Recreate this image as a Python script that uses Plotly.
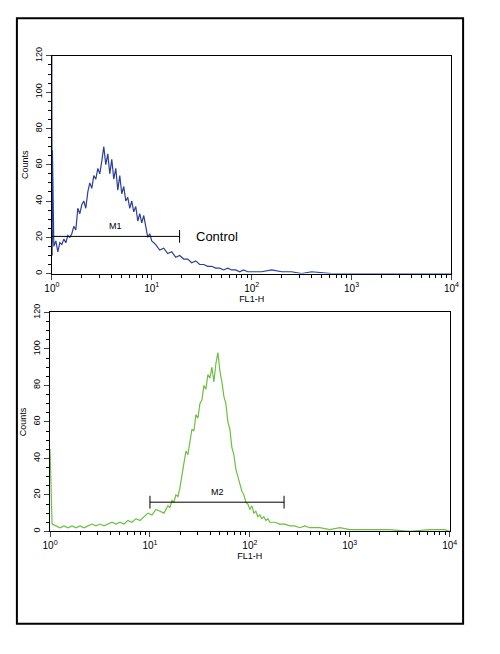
import math
import plotly.graph_objects as go

# top histogram (control), x as log10 of FL1-H
top_lx = [0, 0.003, 0.006, 0.02, 0.04, 0.06, 0.08, 0.10, 0.12, 0.14, 0.16, 0.18, 0.20, 0.22, 0.24, 0.26, 0.28,
          0.30, 0.32, 0.34, 0.36, 0.38, 0.40, 0.42, 0.44, 0.46, 0.48, 0.50, 0.52, 0.54, 0.56, 0.58,
          0.60, 0.62, 0.64, 0.66, 0.68, 0.70, 0.72, 0.74, 0.76, 0.78, 0.80, 0.82, 0.84, 0.86, 0.88,
          0.90, 0.92, 0.94, 0.96, 0.98, 1.00, 1.04, 1.08, 1.12, 1.16, 1.20, 1.24, 1.28, 1.32, 1.36,
          1.40, 1.44, 1.48, 1.52, 1.56, 1.60, 1.64, 1.68, 1.72, 1.76, 1.80, 1.84, 1.88, 1.92, 1.96,
          2.0, 2.1, 2.2, 2.3, 2.4, 2.5, 2.6, 2.8, 3.0, 3.3, 3.6, 4.0]
top_counts = [120, 10, 68, 15, 18, 12, 17, 16, 19, 17, 21, 20, 22, 26, 24, 36, 33,
              38, 40, 36, 45, 50, 47, 54, 52, 58, 55, 62, 70, 60, 66, 55,
              63, 52, 58, 46, 54, 44, 48, 40, 42, 36, 40, 34, 37, 29, 33,
              28, 32, 26, 20, 22, 18, 16, 13, 14, 11, 12, 9, 10, 8, 8,
              6, 7, 5, 5, 4, 4, 3, 3, 2, 3, 2, 2, 1, 2, 1,
              1, 1, 2, 1, 1, 0, 1, 0, 0, 0, 0, 0]

# bottom histogram (sample)
bot_lx = [0, 0.02, 0.06, 0.10, 0.14, 0.18, 0.22, 0.26, 0.30, 0.34, 0.38, 0.42, 0.46, 0.50, 0.54,
          0.58, 0.62, 0.66, 0.70, 0.74, 0.78, 0.82, 0.86, 0.90, 0.94, 0.98, 1.02, 1.06, 1.10, 1.14,
          1.18, 1.20, 1.22, 1.24, 1.26, 1.28, 1.30, 1.32, 1.34, 1.36, 1.38, 1.40, 1.42, 1.44, 1.46,
          1.48, 1.50, 1.52, 1.54, 1.56, 1.58, 1.60, 1.62, 1.64, 1.66, 1.68, 1.70, 1.72, 1.74, 1.76,
          1.78, 1.80, 1.82, 1.84, 1.86, 1.88, 1.90, 1.92, 1.94, 1.96, 1.98, 2.00, 2.02, 2.04, 2.06,
          2.08, 2.10, 2.12, 2.14, 2.16, 2.18, 2.20, 2.25, 2.30, 2.35, 2.40, 2.45, 2.50, 2.55, 2.60,
          2.70, 2.80, 2.90, 3.00, 3.20, 3.40, 3.60, 3.80, 3.95, 4.0]
bot_counts = [45, 4, 3, 2, 3, 2, 3, 2, 3, 2, 3, 4, 3, 4, 3,
              4, 5, 4, 5, 4, 6, 5, 7, 6, 8, 10, 9, 12, 11, 10,
              14, 13, 17, 16, 20, 19, 24, 30, 38, 44, 42, 50, 56, 55, 64,
              62, 70, 72, 80, 78, 86, 84, 90, 82, 92, 98, 88, 82, 74, 70,
              60, 56, 46, 42, 34, 30, 26, 22, 20, 16, 15, 12, 14, 10, 11,
              8, 9, 7, 8, 6, 7, 5, 5, 4, 4, 3, 3, 2, 3, 2,
              2, 1, 2, 1, 1, 1, 0, 1, 1, 0]

# marker gates: (start, end, y level, label)
m1 = (1, 19, 20.5, "M1")
m2 = (10, 220, 16, "M2")

fnt = "Liberation Sans, Arial, sans-serif"
fig = go.Figure()
fig.add_trace(go.Scatter(x=[10 ** v for v in top_lx], y=top_counts, mode="lines",
                         line=dict(color="#2a3f9a", width=1.2), xaxis="x", yaxis="y"))
fig.add_trace(go.Scatter(x=[10 ** v for v in bot_lx], y=bot_counts, mode="lines",
                         line=dict(color="#6cc040", width=1.2), xaxis="x2", yaxis="y2"))

for (a, b, yv, lab), xa, ya in [(m1, "x", "y"), (m2, "x2", "y2")]:
    fig.add_trace(go.Scatter(x=[a, b], y=[yv, yv], mode="lines", line=dict(color="black", width=1),
                             xaxis=xa, yaxis=ya))
    for e in (a, b):
        fig.add_trace(go.Scatter(x=[e, e], y=[yv - 3.5, yv + 3.5], mode="lines",
                                 line=dict(color="black", width=1), xaxis=xa, yaxis=ya))
    mid = (math.log10(a) + math.log10(b)) / 2
    fig.add_annotation(x=mid, y=yv + 2, xref=xa, yref=ya, text=lab, showarrow=False,
                       yanchor="bottom", font=dict(size=9, color="black", family=fnt))
fig.add_annotation(x=math.log10(45), y=m1[2], xref="x", yref="y", text="Control", showarrow=False,
                   font=dict(size=13, color="black", family=fnt))

ticktext = ["10<sup>0</sup>", "10<sup>1</sup>", "10<sup>2</sup>", "10<sup>3</sup>", "10<sup>4</sup>"]
xcommon = dict(type="log", range=[0, 4], tickvals=[1, 10, 100, 1000, 10000], ticktext=ticktext,
               ticks="outside", ticklen=5, showline=True, linecolor="black", mirror=True,
               showgrid=False, zeroline=False, tickfont=dict(size=10, family=fnt, color="black"),
               minor=dict(ticks="outside", ticklen=3, tickcolor="black", showgrid=False, dtick="D1"),
               title=dict(text="FL1-H", font=dict(size=9, family=fnt, color="black"), standoff=0))
ycommon = dict(range=[0, 120], dtick=20, ticks="outside", ticklen=5, showline=True, linecolor="black",
               mirror=True, showgrid=False, zeroline=False, tickangle=-90,
               tickfont=dict(size=9, family=fnt, color="black"),
               minor=dict(ticks="outside", ticklen=3, dtick=5, tickcolor="black", showgrid=False),
               title=dict(text="Counts", font=dict(size=9, family=fnt, color="black"), standoff=4))

fig.update_layout(
    width=464, height=618, showlegend=False,
    margin=dict(l=0, r=0, t=0, b=0),
    paper_bgcolor="white", plot_bgcolor="white",
    xaxis=dict(xcommon, domain=[0.08, 0.972], anchor="y"),
    yaxis=dict(ycommon, domain=[0.578, 0.936], anchor="x"),
    xaxis2=dict(xcommon, domain=[0.076, 0.968], anchor="y2"),
    yaxis2=dict(ycommon, domain=[0.154, 0.514], anchor="x2"),
    shapes=[dict(type="rect", xref="paper", yref="paper", x0=0.002, x1=0.998, y0=0.002, y1=0.998,
                 line=dict(color="black", width=2))],
)

fig.write_html("out.html")
